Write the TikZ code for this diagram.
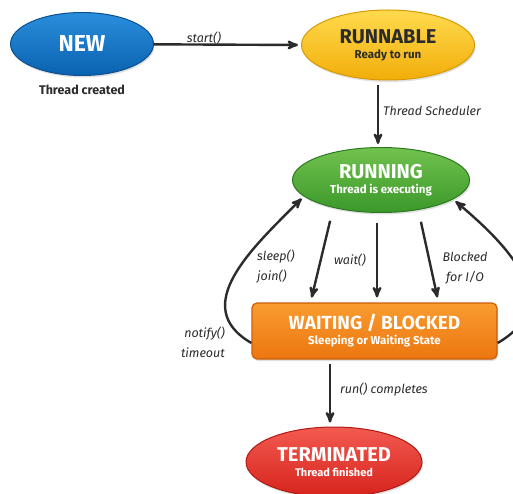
\documentclass[tikz,border=0pt]{standalone}
\usepackage{fontspec}
\setmainfont{Fira Sans}
\usepackage{tikz}
\usetikzlibrary{arrows,shapes.geometric,shadows}

\definecolor{newtop}{HTML}{2A8EDC}
\definecolor{newbot}{HTML}{0A62B0}
\definecolor{newline}{HTML}{0A4F8F}
\definecolor{rnbtop}{HTML}{FFDA4E}
\definecolor{rnbbot}{HTML}{F2AE0A}
\definecolor{rnbline}{HTML}{D89A00}
\definecolor{runtop}{HTML}{72C24E}
\definecolor{runbot}{HTML}{3A982A}
\definecolor{runline}{HTML}{2C7A20}
\definecolor{waittop}{HTML}{F99C30}
\definecolor{waitbot}{HTML}{EC7610}
\definecolor{waitline}{HTML}{CC5E08}
\definecolor{termtop}{HTML}{F25A50}
\definecolor{termbot}{HTML}{D6231C}
\definecolor{termline}{HTML}{B01A14}
\definecolor{inkgray}{HTML}{2B2B2B}

\begin{document}
\begin{tikzpicture}[->,>=stealth',shorten >=1pt,auto,node distance=46pt,
  x=1pt,y=-1pt,line width=2.4pt,draw=inkgray,
  state node/.style={ellipse,draw,line width=1pt,inner sep=0pt,align=center,
    font=\bfseries,drop shadow={opacity=0.25,shadow xshift=1pt,shadow yshift=-2pt}},
  wait node/.style={rectangle,rounded corners=5pt,draw=waitline,line width=1.2pt,
    top color=waittop,bottom color=waitbot,text=white,align=center,font=\bfseries,
    minimum width=245pt,minimum height=56pt,inner sep=0pt,
    drop shadow={opacity=0.25,shadow xshift=1pt,shadow yshift=-2pt}},
  note node/.style={text=inkgray,font=\bfseries\fontsize{12.5}{14}\selectfont},
  label node/.style={text=inkgray,font=\itshape\fontsize{12.5}{20}\selectfont,inner sep=0pt}]
  \useasboundingbox (0,0) rectangle (513,494);

  \node[state node,draw=newline,top color=newtop,bottom color=newbot,text=white,
    minimum width=143pt,minimum height=63pt] (new) at (82,44)
    {\fontsize{23}{25}\selectfont NEW};
  \node[note node] (created) [below of=new] {Thread created};
  \node[state node,draw=rnbline,top color=rnbtop,bottom color=rnbbot,text=inkgray,
    minimum width=173pt,minimum height=70pt] (runnable) at (388,45)
    {\fontsize{20}{22}\selectfont RUNNABLE\\[3pt]\fontsize{11.5}{13}\selectfont Ready to run};
  \node[state node,draw=runline,top color=runtop,bottom color=runbot,text=white,
    minimum width=177pt,minimum height=65pt] (running) at (381,180)
    {\fontsize{20}{22}\selectfont RUNNING\\[3pt]\fontsize{11.5}{13}\selectfont Thread is executing};
  \node[wait node] (waiting) at (374.5,331)
    {\fontsize{19}{21}\selectfont WAITING / BLOCKED\\[3pt]\fontsize{11.5}{13}\selectfont Sleeping or Waiting State};
  \node[state node,draw=termline,top color=termtop,bottom color=termbot,text=white,
    minimum width=176pt,minimum height=70pt] (terminated) at (334,462)
    {\fontsize{20}{22}\selectfont TERMINATED\\[3pt]\fontsize{11}{13}\selectfont Thread finished};

  % transition labels
  \node[label node] (lstart) at (204,38) {start()};
  \node[label node,anchor=west] (lsched) at (382,111) {Thread Scheduler};
  \node[label node,anchor=west,align=left] (lsleep) at (256,267) {sleep()\\join()};
  \node[label node] (lwait) at (350,260) {wait()};
  \node[label node,align=center] (lio) at (465,268) {Blocked\\for I/O};
  \node[label node,anchor=east,align=right] (lnotify) at (226,342) {notify()\\timeout};
  \node[label node,anchor=west] (lrun) at (339,390) {run() completes};

  \path[shorten >=3pt]
    (new) edge (runnable.west)
    ([xshift=-10pt]runnable.south) edge[shorten <=5pt] ([xshift=-3pt]running.north)
    ([xshift=-49pt]running.south) edge[shorten <=8pt,shorten >=5pt] ([xshift=-64pt]waiting.north)
    ([xshift=-4pt]running.south) edge[shorten <=10pt,shorten >=5pt] ([xshift=2.5pt]waiting.north)
    ([xshift=38pt]running.south) edge[shorten <=9pt,shorten >=5pt] ([xshift=64pt]waiting.north)
    ([yshift=-12pt]waiting.west) edge[out=150,in=225,looseness=1.2] (running.192)
    ([yshift=-12pt]waiting.east) edge[out=30,in=-40,looseness=1.3] (running.345)
    ([xshift=-44.5pt]waiting.south) edge[shorten <=4pt,shorten >=4pt] ([xshift=-4pt]terminated.north);
\end{tikzpicture}
\end{document}
